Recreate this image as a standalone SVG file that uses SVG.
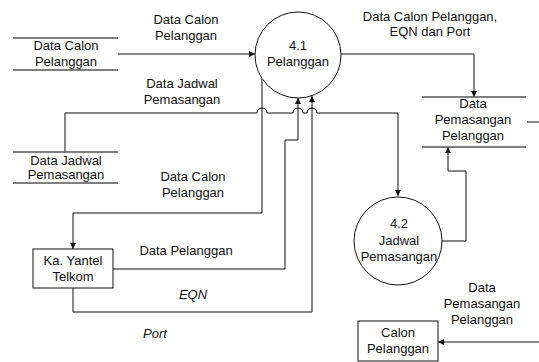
<svg xmlns="http://www.w3.org/2000/svg" width="539" height="362" viewBox="0 0 539 362">
  <style>
    text { font-family: "Liberation Sans", Arial, sans-serif; font-size: 13px; fill: #111; text-anchor: middle; }
    .it { font-style: italic; }
    .flow { fill: none; stroke: #111; stroke-width: 1; marker-end: url(#arrow); }
    .line { fill: none; stroke: #111; stroke-width: 1; }
    .store { stroke: #555; stroke-width: 1.5; fill: none; }
    .proc { fill: #fff; stroke: #111; stroke-width: 1; }
    .ent { fill: #fff; stroke: #111; stroke-width: 1; }
  </style>
  <defs>
    <marker id="arrow" markerWidth="6" markerHeight="6" refX="6" refY="3" orient="auto" markerUnits="userSpaceOnUse">
      <path d="M0,0 L6,3 L0,6 z" fill="#111"/>
    </marker>
  </defs>
  <rect width="539" height="362" fill="#fff"/>

  <!-- connectors -->
  <g id="connectors">
    <path class="flow" d="M118,54 H255"/>
    <path class="flow" d="M341,54 H474 V97"/>
    <path class="flow" d="M65,152 V113 H257 A5,5 0 0 1 267,113 H293 A5,5 0 0 1 303,113 H307 A5,5 0 0 1 317,113 H398 V196"/>
    <path class="flow" d="M262,79 V213 H73 V249"/>
    <path class="flow" d="M113,269 H285 V140 H298 V98"/>
    <path class="flow" d="M73,288 V312 H312 V96"/>
    <path class="flow" d="M442,241 H466 V171 H448 V147"/>
    <path class="line" d="M527,122 H539"/>
    <path class="flow" d="M539,342 H438"/>
  </g>

  <!-- flow labels -->
  <g id="labels">
    <text x="186" y="24">Data Calon</text>
    <text x="186" y="40">Pelanggan</text>
    <text x="182" y="88">Data Jadwal</text>
    <text x="182" y="104">Pemasangan</text>
    <text x="193" y="181">Data Calon</text>
    <text x="193" y="197">Pelanggan</text>
    <text x="186" y="255">Data Pelanggan</text>
    <text class="it" x="193" y="299">EQN</text>
    <text class="it" x="155" y="338">Port</text>
    <text x="430" y="21">Data Calon Pelanggan,</text>
    <text x="430" y="36">EQN dan Port</text>
    <text x="482" y="292">Data</text>
    <text x="482" y="308">Pemasangan</text>
    <text x="482" y="324">Pelanggan</text>
  </g>

  <!-- data store: Data Calon Pelanggan -->
  <g id="store-data-calon-pelanggan">
    <line class="store" x1="13" y1="38" x2="118" y2="38"/>
    <line class="store" x1="13" y1="70" x2="118" y2="70"/>
    <text x="66" y="50">Data Calon</text>
    <text x="66" y="66">Pelanggan</text>
  </g>

  <!-- data store: Data Jadwal Pemasangan -->
  <g id="store-data-jadwal-pemasangan">
    <line class="store" x1="13" y1="152" x2="118" y2="152"/>
    <line class="store" x1="13" y1="183" x2="118" y2="183"/>
    <text x="66" y="165">Data Jadwal</text>
    <text x="66" y="179">Pemasangan</text>
  </g>

  <!-- data store: Data Pemasangan Pelanggan -->
  <g id="store-data-pemasangan-pelanggan">
    <line class="store" x1="422" y1="97" x2="526" y2="97"/>
    <line class="store" x1="422" y1="147" x2="526" y2="147"/>
    <text x="473" y="108">Data</text>
    <text x="473" y="124">Pemasangan</text>
    <text x="473" y="140">Pelanggan</text>
  </g>

  <!-- process 4.1 -->
  <g id="proc-4-1">
    <circle class="proc" cx="298" cy="55" r="43"/>
    <text x="298" y="50">4.1</text>
    <text x="298" y="66">Pelanggan</text>
  </g>

  <!-- process 4.2 -->
  <g id="proc-4-2">
    <circle class="proc" cx="398" cy="241" r="44"/>
    <text x="399" y="228">4.2</text>
    <text x="399" y="245">Jadwal</text>
    <text x="399" y="261">Pemasangan</text>
  </g>

  <!-- external entity: Ka. Yantel Telkom -->
  <g id="ent-ka-yantel">
    <rect class="ent" x="33" y="249" width="80" height="39"/>
    <text x="73" y="265">Ka. Yantel</text>
    <text x="73" y="281">Telkom</text>
  </g>

  <!-- external entity: Calon Pelanggan -->
  <g id="ent-calon-pelanggan">
    <rect class="ent" x="358" y="321" width="80" height="40"/>
    <text x="398" y="337">Calon</text>
    <text x="398" y="353">Pelanggan</text>
  </g>
</svg>
